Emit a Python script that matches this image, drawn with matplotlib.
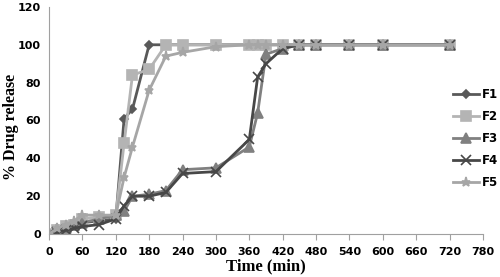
import matplotlib.pyplot as plt

# time points (min)
tiempo = [0, 15, 30, 45, 60, 90, 120, 135, 150, 180, 210, 240, 300, 360, 375, 390, 420, 450, 480, 540, 600, 720]

f1 = [0, 3, 5, 6, 6, 7, 8, 61, 66, 100, 100, 100, 100, 100, 100, 100, 100, 100, 100, 100, 100, 100]
f2 = [0, 2, 4, 5, 8, 9, 10, 48, 84, 87, 100, 100, 100, 100, 100, 100, 100, 100, 100, 100, 100, 100]
f3 = [0, 2, 3, 5, 6, 8, 10, 12, 20, 21, 23, 34, 35, 46, 64, 95, 98, 100, 100, 100, 100, 100]
f4 = [0, 1, 2, 3, 4, 5, 8, 15, 20, 20, 22, 32, 33, 50, 83, 90, 98, 100, 100, 100, 100, 100]
f5 = [0, 3, 5, 7, 10, 10, 10, 30, 46, 76, 94, 96, 99, 100, 100, 100, 100, 100, 100, 100, 100, 100]

series = [
    ("F1", f1, "#595959", "D", 4.5),
    ("F2", f2, "#b4b4b4", "s", 6.5),
    ("F3", f3, "#808080", "^", 6.5),
    ("F4", f4, "#474747", "x", 6.5),
    ("F5", f5, "#a6a6a6", "*", 6.5),
]

fig = plt.figure(figsize=(5, 2.77), dpi=100)
ax = fig.add_axes([0.098, 0.155, 0.868, 0.82])

for nome, y, cor, marc, tam in series:
    ax.plot(tiempo, y, color=cor, marker=marc, markersize=tam, linewidth=2,
            markeredgewidth=1.2, label=nome)

ax.set_xlim(0, 780)
ax.set_ylim(0, 120)
ax.set_xticks(range(0, 781, 60))
ax.set_yticks(range(0, 121, 20))

for s in ["top", "right"]:
    ax.spines[s].set_visible(False)
for s in ["left", "bottom"]:
    ax.spines[s].set_color("#a0a0a0")
ax.tick_params(axis="y", length=0, pad=6)
ax.tick_params(axis="x", length=4, color="#a0a0a0", pad=5)
for lbl in ax.get_xticklabels() + ax.get_yticklabels():
    lbl.set_fontsize(8)
    lbl.set_fontweight("bold")

ax.set_xlabel("Time (min)", fontfamily="Liberation Serif", fontweight="bold", fontsize=12, labelpad=1)
fig.text(0.022, 0.54, "% Drug release", fontfamily="Liberation Serif", fontweight="bold",
         fontsize=11.5, rotation=90, ha="center", va="center")

fig.legend(loc="center left", bbox_to_anchor=(0.885, 0.50), frameon=False,
           prop={"weight": "bold", "size": 8.5}, handlelength=2.2,
           handletextpad=0.2, labelspacing=0.75)

plt.savefig("out.png")
